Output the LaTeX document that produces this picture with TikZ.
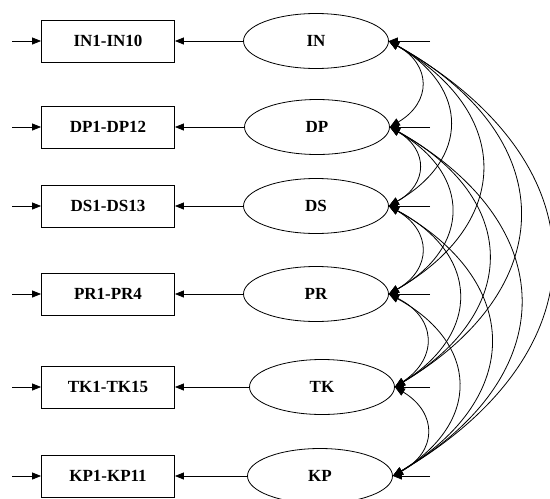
\documentclass[tikz,border=0pt]{standalone}
\usepackage{fontspec}
\setmainfont{Liberation Serif}
\usetikzlibrary{arrows.meta,shapes.geometric}

\begin{document}
\begin{tikzpicture}[x=1pt, y=-1pt, line width=0.8pt,
	arrows={-Triangle[length=9pt,width=7pt]},
	font=\fontsize{17}{19}\selectfont\bfseries,
	item/.style={draw, rectangle, minimum width=133pt, minimum height=42pt, inner sep=0pt},
	latent/.style={draw, ellipse, minimum width=145pt, minimum height=55pt, inner sep=0pt},
	corr/.style={{Triangle[length=10pt,width=8pt]}-{Triangle[length=10pt,width=8pt]}, bend left=60, looseness=1.45}]
	\useasboundingbox (0,0) rectangle (550,499);

	% factors and their indicator blocks
	\foreach \f/\lab/\fx/\y in {IN/IN1-IN10/316/41, DP/DP1-DP12/317/127, DS/DS1-DS13/316/206,
			PR/PR1-PR4/316/294, TK/TK1-TK15/322/387, KP/KP1-KP11/320/476} {
		\node [latent] (\f) at (\fx,\y) {\f};
		\node [item] (\f-ind) at (108,\y) {\lab};
		\coordinate (\f-in) at (12,\y);
		\coordinate (\f-err) at (430,\y);
		\draw (\f) -- (\f-ind);
		\draw (\f-in) -- (\f-ind);
		\draw (\f-err) -- (\f.east);
	}

	% covariances
	\foreach \a/\b in {IN/DP, IN/DS, IN/PR, IN/TK, IN/KP, DP/DS, DP/PR, DP/TK, DP/KP,
			DS/PR, DS/TK, DS/KP, PR/TK, PR/KP, TK/KP}
		\draw [corr] (\a.east) to (\b.east);
\end{tikzpicture}
\end{document}
